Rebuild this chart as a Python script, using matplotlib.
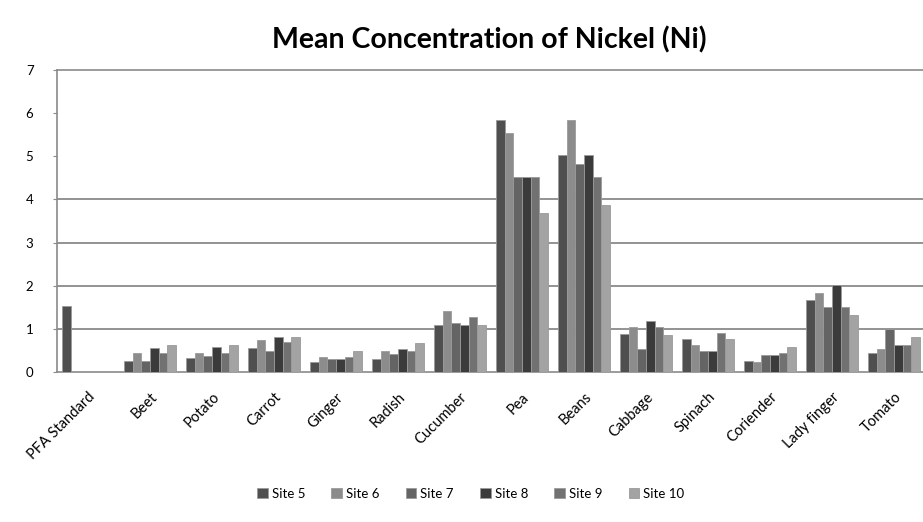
import matplotlib.pyplot as plt
import numpy as np

categories = ['PFA Standard', 'Beet', 'Potato', 'Carrot', 'Ginger', 'Radish', 'Cucumber',
              'Pea', 'Beans', 'Cabbage', 'Spinach', 'Coriender', 'Lady finger', 'Tomato']
sites = ['Site 5', 'Site 6', 'Site 7', 'Site 8', 'Site 9', 'Site 10']

site5 = [1.52, 0.26, 0.32, 0.55, 0.22, 0.30, 1.09, 5.85, 5.02, 0.88, 0.77, 0.25, 1.66, 0.45]
site6 = [0, 0.43, 0.43, 0.73, 0.34, 0.49, 1.42, 5.55, 5.85, 1.05, 0.63, 0.23, 1.83, 0.53]
site7 = [0, 0.26, 0.36, 0.49, 0.29, 0.41, 1.13, 4.52, 4.83, 0.54, 0.48, 0.39, 1.50, 0.99]
site8 = [0, 0.55, 0.59, 0.82, 0.31, 0.53, 1.09, 4.52, 5.02, 1.19, 0.48, 0.39, 2.02, 0.63]
site9 = [0, 0.43, 0.43, 0.70, 0.34, 0.49, 1.27, 4.52, 4.52, 1.05, 0.91, 0.44, 1.50, 0.63]
site10 = [0, 0.63, 0.63, 0.81, 0.49, 0.67, 1.08, 3.69, 3.87, 0.86, 0.76, 0.58, 1.32, 0.82]

series = [site5, site6, site7, site8, site9, site10]
colors = ['#4f4f4f', '#8c8c8c', '#646464', '#3b3b3b', '#717171', '#a3a3a3']

plt.rcParams['font.family'] = ['Lato', 'DejaVu Sans']

fig = plt.figure(figsize=(9.23, 5.22), dpi=100)
ax = fig.add_axes([0.0618, 0.2874, 0.9404, 0.5785])

x = np.arange(len(categories))
w = 0.14
for k, (vals, name) in enumerate(zip(series, sites)):
    ax.bar(x + (k - 2.5) * w, vals, w, color=colors[k], edgecolor='#9a9a9a',
           linewidth=0.6, label=name, zorder=3)

ax.set_xlim(-0.5, len(categories) - 0.5)
ax.set_ylim(0, 7)
ax.set_yticks(range(8))
for g in [1, 2, 3, 4]:
    ax.axhline(g, color='#808080', linewidth=1.2, zorder=1)

for s in ['left', 'bottom', 'top']:
    ax.spines[s].set_color('#8a8a8a')
    ax.spines[s].set_linewidth(1.2)
ax.spines['right'].set_visible(False)

ax.tick_params(axis='y', length=3, color='#8a8a8a', labelsize=9.5, pad=14)
ax.tick_params(axis='x', length=0, labelsize=10.5, pad=13)
ax.set_xticks(x, categories, rotation=45, ha='right', rotation_mode='anchor')

fig.suptitle('Mean Concentration of Nickel (Ni)', x=0.53, y=0.95, fontsize=20.5, fontweight='bold')

fig.legend(loc='lower center', bbox_to_anchor=(0.51, 0.02), ncol=6, frameon=False,
           fontsize=9.5, handlelength=0.8, handleheight=0.8, handletextpad=0.3, columnspacing=2.0)

plt.savefig('out.png', dpi=100)
